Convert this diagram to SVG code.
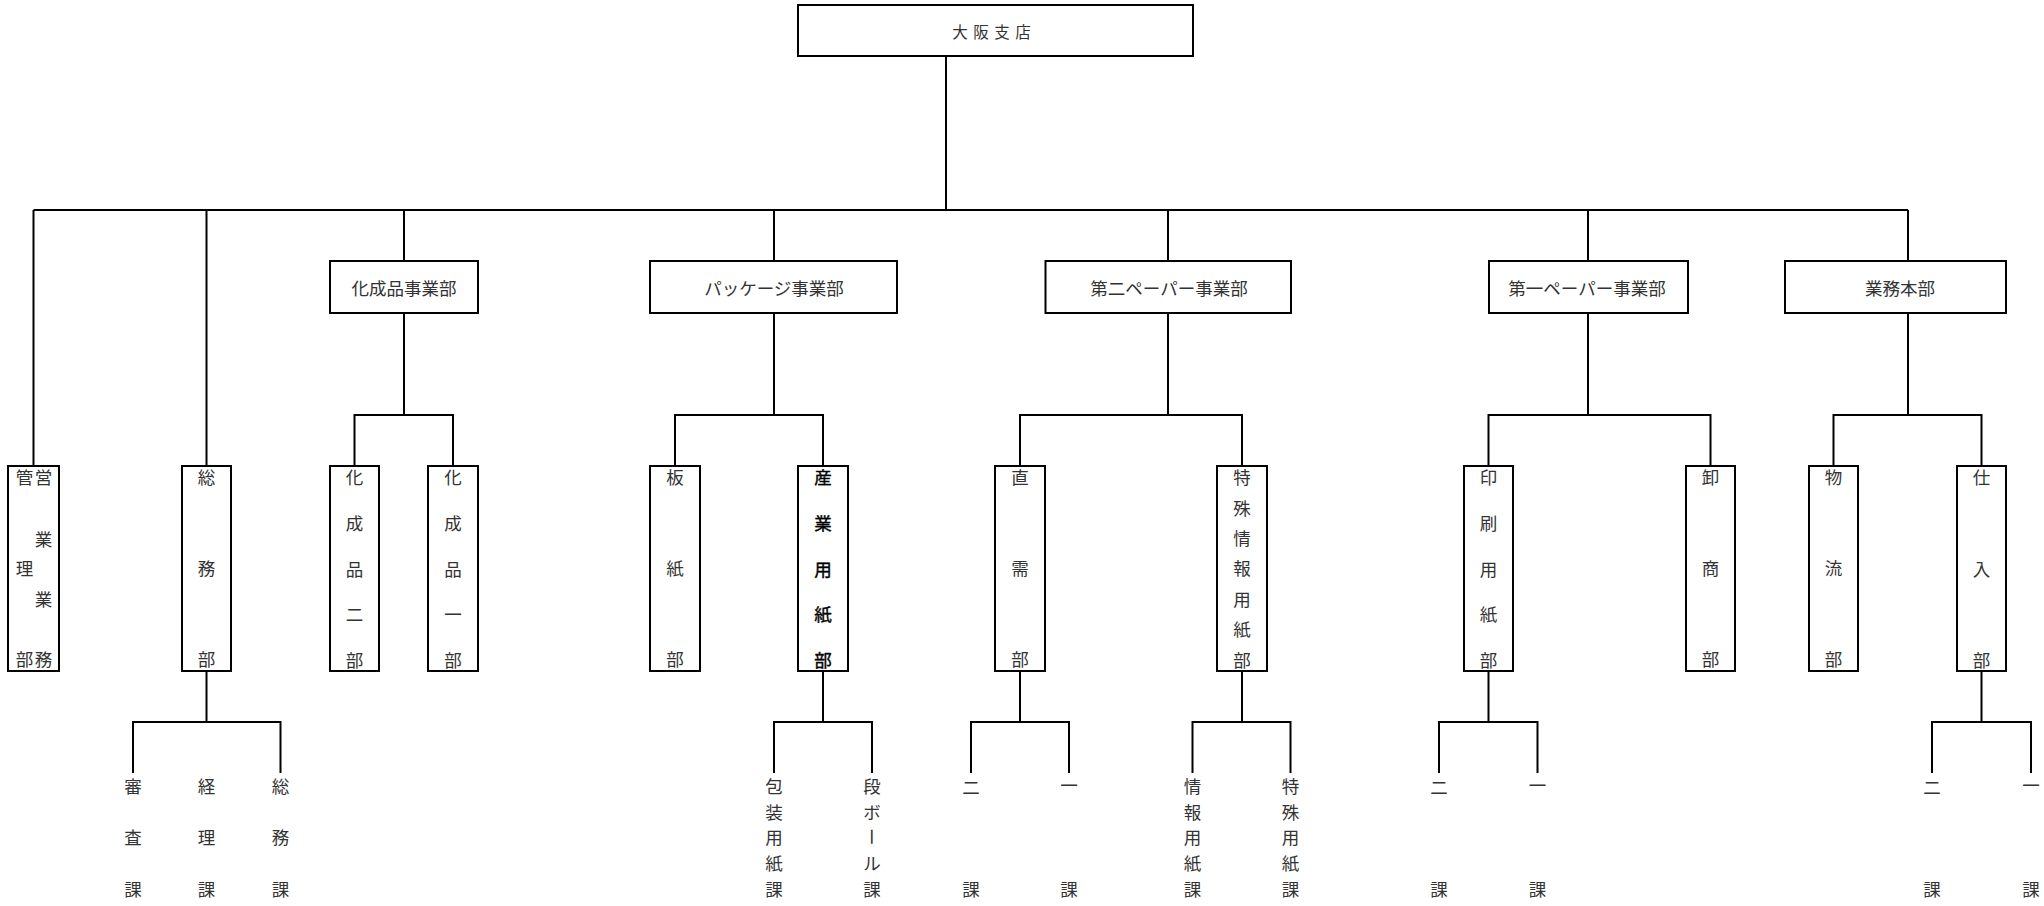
<svg xmlns="http://www.w3.org/2000/svg" width="2044" height="906" viewBox="0 0 2044 906">
<style>
.box{fill:#fff;stroke:#000;stroke-width:2}
.c{fill:none;stroke:#000;stroke-width:2}
.t{font-family:"Noto Sans CJK JP","Noto Sans CJK SC",sans-serif;font-size:17.5px;fill:#333;text-anchor:middle;dominant-baseline:central}
.v{font-size:17.5px}
.r{font-size:15.5px}
.b{fill:#000;stroke:#000;stroke-width:0.4}
</style>
<rect width="2044" height="906" fill="#fff"/>
<g id="connectors">
<path class="c" d="M946 56V210M33.5 210H1908M33.5 210V466M206.5 210V466M404 210V261M774 210V261M1168 210V261M1588 210V261M1908 210V261"/>
<path class="c" d="M404 313V415M354.5 466V415H453V466M774 313V415M675 466V415H823V466M1168 313V415M1020 466V415H1242V466M1588 313V415M1488.5 466V415H1710.5V466M1908 313V415M1833.5 466V415H1981.5V466"/>
<path class="c" d="M206.5 671V722M133 773V722H280.5V773M823 671V722M774 773V722H872V773M1020 671V722M971 773V722H1069V773M1242 671V722M1192.5 773V722H1290.5V773M1488.5 671V722M1439 773V722H1537.5V773M1981.5 671V722M1932 773V722H2031V773"/>
</g>
<g id="n-osaka"><rect class="box" x="798" y="5" width="395" height="51"/><text class="t r" x="960 981 1002 1023" y="31">大阪支店</text></g>
<g id="n-kaseihin-jigyo"><rect class="box" x="330" y="261" width="148" height="52"/><text class="t" x="404" y="287">化成品事業部</text></g>
<g id="n-package-jigyo"><rect class="box" x="650" y="261" width="247" height="52"/><text class="t" x="774" y="287">パッケージ事業部</text></g>
<g id="n-daini-jigyo"><rect class="box" x="1045.5" y="261" width="245.5" height="52"/><text class="t" x="1169" y="287">第二ペーパー事業部</text></g>
<g id="n-daiichi-jigyo"><rect class="box" x="1489" y="261" width="199" height="52"/><text class="t" x="1587" y="287">第一ペーパー事業部</text></g>
<g id="n-gyomu-honbu"><rect class="box" x="1785" y="261" width="221" height="52"/><text class="t" x="1900" y="287">業務本部</text></g>

<g id="n-eigyo-kanri"><rect class="box" x="8" y="466" width="51" height="205"/>
<text class="t v" x="43.5 43.5 43.5 43.5" y="476.7 538.3 598.3 658.3">営業業務</text>
<text class="t v" x="24.5 24.5 24.5" y="476.7 567.7 658.3">管理部</text></g>
<g id="n-somu"><rect class="box" x="182" y="466" width="49" height="205"/><text class="t v" x="206.5 206.5 206.5" y="476.7 567.7 658.3">総務部</text></g>
<g id="n-kasei2"><rect class="box" x="330" y="466" width="49" height="205"/><text class="t v" x="354.5 354.5 354.5 354.5 354.5" y="476.7 522.3 568 613.5 659">化成品二部</text></g>
<g id="n-kasei1"><rect class="box" x="428" y="466" width="50" height="205"/><text class="t v" x="453 453 453 453 453" y="476.7 522.3 568 613.5 659">化成品一部</text></g>
<g id="n-itagami"><rect class="box" x="650" y="466" width="50" height="205"/><text class="t v" x="675 675 675" y="476.7 567.7 658.3">板紙部</text></g>
<g id="n-sangyo"><rect class="box" x="798" y="466" width="50" height="205"/><text class="t v b" x="823 823 823 823 823" y="476.7 522.3 568 613.5 659">産業用紙部</text></g>
<g id="n-chokuju"><rect class="box" x="995" y="466" width="50" height="205"/><text class="t v" x="1020 1020 1020" y="476.7 567.7 658.3">直需部</text></g>
<g id="n-tokushu-joho"><rect class="box" x="1217" y="466" width="50" height="205"/><text class="t v" x="1242 1242 1242 1242 1242 1242 1242" y="476.7 507 537.4 567.8 598.2 628.6 659">特殊情報用紙部</text></g>
<g id="n-insatsu"><rect class="box" x="1464" y="466" width="49" height="205"/><text class="t v" x="1488.5 1488.5 1488.5 1488.5 1488.5" y="476.7 522.3 568 613.5 659">印刷用紙部</text></g>
<g id="n-oroshi"><rect class="box" x="1686" y="466" width="49" height="205"/><text class="t v" x="1710.5 1710.5 1710.5" y="476.7 567.7 658.3">卸商部</text></g>
<g id="n-butsuryu"><rect class="box" x="1809" y="466" width="49" height="205"/><text class="t v" x="1833.5 1833.5 1833.5" y="476.7 567.7 658.3">物流部</text></g>
<g id="n-shiire"><rect class="box" x="1957" y="466" width="49" height="205"/><text class="t v" x="1981.5 1981.5 1981.5" y="476.7 568 659">仕入部</text></g>

<g id="n-shinsa"><text class="t v" x="133 133 133" y="785 836.7 888.3">審査課</text></g>
<g id="n-keiri"><text class="t v" x="206.5 206.5 206.5" y="785 836.7 888.3">経理課</text></g>
<g id="n-somuka"><text class="t v" x="280.5 280.5 280.5" y="785 836.7 888.3">総務課</text></g>
<g id="n-hoso"><text class="t v" x="774 774 774 774 774" y="785 811 836.7 862.7 888.3">包装用紙課</text></g>
<g id="n-danboru"><text class="t v" x="872 872" y="785 811">段ボ</text><text class="t v" x="872" y="836.7" transform="rotate(90 872 836.7)">ー</text><text class="t v" x="872 872" y="862.7 888.3">ル課</text></g>
<g id="n-choku2"><text class="t v" x="971 971" y="786 888.3">二課</text></g>
<g id="n-choku1"><text class="t v" x="1069 1069" y="784 888.3">一課</text></g>
<g id="n-joho"><text class="t v" x="1192.5 1192.5 1192.5 1192.5 1192.5" y="785 811 836.7 862.7 888.3">情報用紙課</text></g>
<g id="n-tokushu"><text class="t v" x="1290.5 1290.5 1290.5 1290.5 1290.5" y="785 811 836.7 862.7 888.3">特殊用紙課</text></g>
<g id="n-insatsu2"><text class="t v" x="1439 1439" y="786 888.3">二課</text></g>
<g id="n-insatsu1"><text class="t v" x="1537.5 1537.5" y="784 888.3">一課</text></g>
<g id="n-shiire2"><text class="t v" x="1932 1932" y="786 888.3">二課</text></g>
<g id="n-shiire1"><text class="t v" x="2031 2031" y="784 888.3">一課</text></g>
</svg>
